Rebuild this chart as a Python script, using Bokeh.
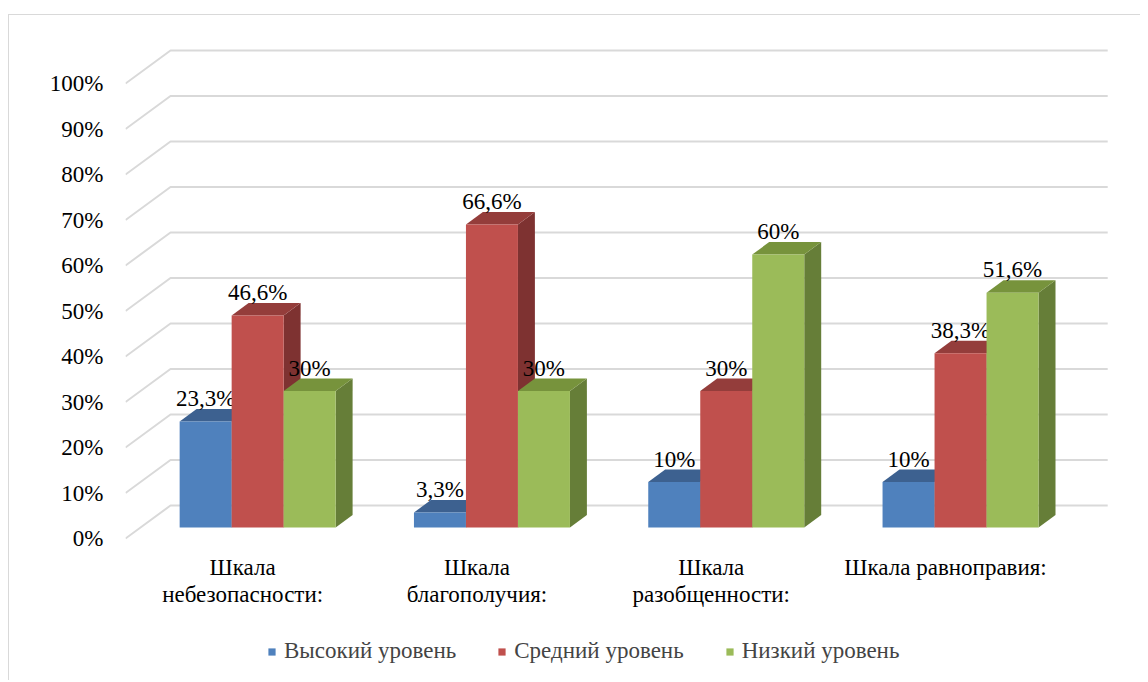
from bokeh.plotting import figure
from bokeh.models import (FixedTicker, PrintfTickFormatter,
                          Legend, LegendItem, Range1d)
from bokeh.core.properties import value
from bokeh.embed import file_html
from bokeh.resources import INLINE

# ---------------- data ----------------
categories = ["Шкала\nнебезопасности:", "Шкала\nблагополучия:",
              "Шкала\nразобщенности:", "Шкала равноправия:"]
series_names = ["Высокий уровень", "Средний уровень", "Низкий уровень"]
high_level = [23.3, 3.3, 10, 10]
mid_level = [46.6, 66.6, 30, 38.3]
low_level = [30, 30, 60, 51.6]
y_ticks = [0, 10, 20, 30, 40, 50, 60, 70, 80, 90, 100]

# ---------------- styles ----------------
front_colors = ["#4F81BD", "#C0504D", "#9BBB59"]
top_colors = ["#3D6190", "#943D3B", "#77933C"]
side_colors = ["#375780", "#7E3231", "#667E38"]
FONT = "Liberation Serif"
FS = "23px"
grid_color = "#D9D9D9"

# geometry (data units): x = category units on front plane, y = percent on front plane
PX_X = 234.3
PX_Y = 4.55
DEPTH_X = 45 / PX_X      # full floor depth
DEPTH_Y = 33 / PX_Y
F1, F2 = 1 / 3, 0.71     # bar front / back depth fractions
BAR_W = 52 / PX_X

frame_w, frame_h = 996, 642
y_top = 500 / PX_Y
y_bottom = y_top - frame_h / PX_Y
p = figure(frame_width=frame_w, frame_height=frame_h, output_backend="svg",
           toolbar_location=None, x_axis_location=None,
           x_range=Range1d(0, frame_w / PX_X), y_range=Range1d(y_bottom, y_top),
           min_border_left=116, min_border_top=23, min_border_right=19, min_border_bottom=0,
           background_fill_color="white", border_fill_color="white",
           outline_line_color=None)
p.styles = {"margin-left": "8px", "margin-top": "14px",
            "border-left": "1px solid #D9D9D9", "border-top": "1px solid #D9D9D9"}
p.grid.visible = False

# gridlines: front-left diagonal then back wall line
gx, gy = [], []
for t in y_ticks:
    gx.append([0, DEPTH_X, len(categories) + DEPTH_X])
    gy.append([t, t + DEPTH_Y, t + DEPTH_Y])
p.multi_line(gx, gy, line_color=grid_color, line_width=2)

# bars
all_series = [high_level, mid_level, low_level]
n = len(all_series)
legend_items = []
for s, vals in enumerate(all_series):
    left, right, bottom, top = [], [], [], []
    tops_x, tops_y, sides_x, sides_y = [], [], [], []
    lab_x, lab_y, lab_t = [], [], []
    for i, v in enumerate(vals):
        xl = i + 0.5 - n * BAR_W / 2 + s * BAR_W + F1 * DEPTH_X
        xr = xl + BAR_W
        yb = F1 * DEPTH_Y
        yt = yb + v
        ddx = (F2 - F1) * DEPTH_X
        ddy = (F2 - F1) * DEPTH_Y
        left.append(xl); right.append(xr); bottom.append(yb); top.append(yt)
        tops_x.append([xl, xr, xr + ddx, xl + ddx])
        tops_y.append([yt, yt, yt + ddy, yt + ddy])
        sides_x.append([xr, xr + ddx, xr + ddx, xr])
        sides_y.append([yb, yb + ddy, yt + ddy, yt])
        lab_x.append((xl + xr) / 2)
        lab_y.append(yt + 23 / PX_Y)
        lab_t.append(("%g" % v).replace(".", ",") + "%")
    p.patches(sides_x, sides_y, fill_color=side_colors[s], line_color=None)
    p.patches(tops_x, tops_y, fill_color=top_colors[s], line_color=None)
    r = p.quad(left=left, right=right, bottom=bottom, top=top,
               fill_color=front_colors[s], line_color=None)
    legend_items.append(LegendItem(label=series_names[s], renderers=[r]))
    p.text(lab_x, lab_y, text=lab_t, text_align="center", text_baseline="middle",
           text_font=value(FONT), text_font_size=FS, text_color="black")

# category labels on the front edge of the floor
cat_x = [i + 0.5 for i in range(len(categories))]
cat_y = [-16 / PX_Y] * len(categories)
p.text(cat_x, cat_y, text=categories, text_align="center", text_baseline="top",
       text_line_height=1.1, text_font=value(FONT), text_font_size=FS,
       text_color="black")

# value axis
p.yaxis.ticker = FixedTicker(ticks=y_ticks)
p.yaxis.formatter = PrintfTickFormatter(format="%d%%")
p.yaxis.axis_line_color = None
p.yaxis.major_tick_line_color = None
p.yaxis.minor_tick_line_color = None
p.yaxis.major_tick_out = 0
p.yaxis.major_tick_in = 0
p.yaxis.major_label_standoff = 22
p.yaxis.major_label_text_font = FONT
p.yaxis.major_label_text_font_size = FS
p.yaxis.major_label_text_color = "black"

legend = Legend(items=legend_items, orientation="horizontal", location=(142, 16),
                label_text_font=FONT, label_text_font_size=FS, label_height=9,
                glyph_width=9, glyph_height=9, spacing=41, label_standoff=8,
                border_line_color=None, background_fill_alpha=0, margin=0, padding=0)
p.add_layout(legend, "center")

open("out.html", "w").write(file_html(p, INLINE))
